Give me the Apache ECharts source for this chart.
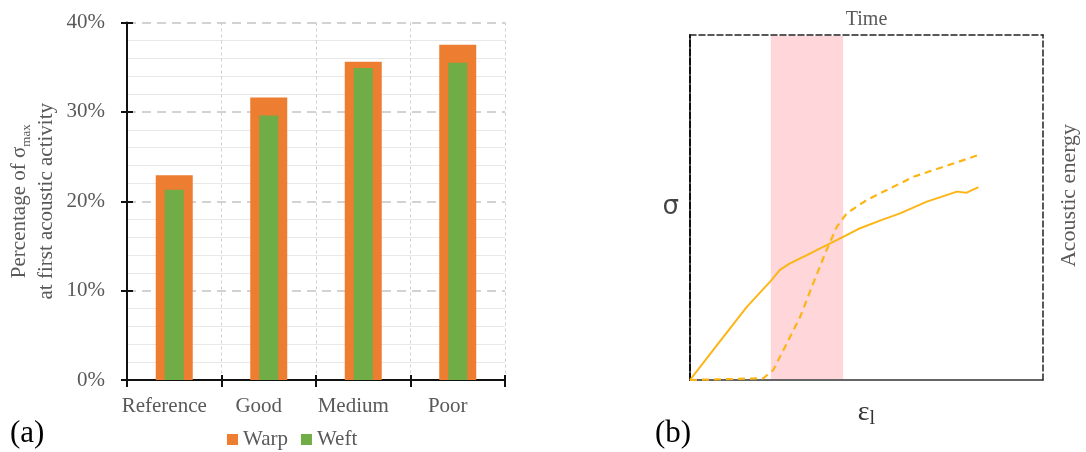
<!DOCTYPE html>
<html>
<head>
<meta charset="utf-8">
<script src="https://cdn.jsdelivr.net/npm/echarts@6/dist/echarts.min.js"></script>
<style>html,body{margin:0;padding:0;background:#fff}#c{width:1086px;height:452px}</style>
</head>
<body>
<div id="c"></div>
<script>
// ---- Panel (a) data ----
const categories = ['Reference', 'Good', 'Medium', 'Poor'];
const warp = [22.9, 31.6, 35.6, 37.5];
const weft = [21.3, 29.6, 34.9, 35.5];
const yTicksA = [0, 10, 20, 30, 40];

// ---- Panel (b) data (schematic, normalised 0-100) ----
const sigmaCurve = [[0,0],[6.6,8.7],[16.1,21.2],[22.7,28.5],[25.5,31.9],[28.3,33.8],[33.1,36.2],[38.7,39.1],[43.4,41.5],[48.2,44.0],[53.8,46.2],[59.5,48.3],[67.1,51.7],[71.8,53.3],[75.6,54.6],[78.4,54.3],[81.7,55.9]];
const energyCurve = [[0,0],[20.8,0.5],[23.6,2.9],[27.4,10.6],[31.2,18.3],[34.9,28.0],[38.7,37.7],[41.6,44.4],[44.4,48.3],[50.1,52.2],[57.6,56.0],[63.3,58.9],[71.8,61.8],[81.7,65.2]];
const bandRange = [22.9, 43.4];

const F = 'Liberation Serif';
const G = '#595959';

const chart = echarts.init(document.getElementById('c'));
chart.setOption({
  animation: false,
  title: [
    {text: '(a)', left: 5, top: 413, textStyle: {fontFamily: F, fontSize: 31, fontWeight: 'normal', color: '#000'}},
    {text: '(b)', left: 650, top: 413, textStyle: {fontFamily: F, fontSize: 31, fontWeight: 'normal', color: '#000'}}
  ],
  legend: {
    data: ['Warp', 'Weft'],
    left: 222, top: 424,
    icon: 'rect', itemWidth: 11, itemHeight: 11, itemGap: 13,
    textStyle: {fontFamily: F, fontSize: 21, color: G}
  },
  grid: [
    {left: 127, top: 22.5, width: 378, height: 357.5},
    {left: 690, top: 35, width: 353, height: 345}
  ],
  xAxis: [
    {type: 'category', gridIndex: 0, data: categories,
     axisLine: {lineStyle: {color: '#111', width: 2}},
     axisTick: {show: true, interval: 0, length: 7, lineStyle: {color: '#111', width: 2}},
     axisLabel: {fontFamily: F, fontSize: 21, color: G, margin: 16, interval: 0, padding: [0, 20, 0, 0]},
     splitLine: {show: true, interval: 0, lineStyle: {color: '#cfcfcf', type: [3, 3], width: 1}}},
    {type: 'category', gridIndex: 0, data: categories, position: 'bottom',
     axisLine: {show: false}, axisLabel: {show: false}, splitLine: {show: false},
     axisTick: {show: true, interval: 0, inside: true, length: 5, lineStyle: {color: '#111', width: 2}}},
    {type: 'value', gridIndex: 1, min: 0, max: 100,
     axisLine: {onZero: false, lineStyle: {color: '#333', width: 1.5}}, axisTick: {show: false}, axisLabel: {show: false}, splitLine: {show: false},
     name: '{e|ε}{s|l}', nameLocation: 'middle', nameGap: 17,
     nameTextStyle: {rich: {e: {fontFamily: F, fontSize: 28, color: '#333'}, s: {fontFamily: F, fontSize: 20, color: '#333', verticalAlign: 'bottom', padding: [12, 0, 0, 0]}}}},
    {type: 'value', gridIndex: 1, min: 0, max: 100, position: 'top',
     axisLine: {show: true, onZero: false, lineStyle: {color: '#222', width: 1.5, type: [6, 3]}}, axisTick: {show: false}, axisLabel: {show: false}, splitLine: {show: false},
     name: 'Time', nameLocation: 'middle', nameGap: 5,
     nameTextStyle: {fontFamily: F, fontSize: 20, color: G}}
  ],
  yAxis: [
    {type: 'value', gridIndex: 0, min: 0, max: 40, interval: 10,
     axisLine: {show: true, lineStyle: {color: '#111', width: 2}},
     axisTick: {show: true, length: 6, lineStyle: {color: '#111', width: 2}},
     axisLabel: {fontFamily: F, fontSize: 21, color: G, margin: 22, formatter: v => yTicksA.includes(v) ? v + '%' : ''},
     splitLine: {show: true, lineStyle: {color: '#c4c4c4', type: [9, 6], width: 1.5}},
     minorTick: {show: false, splitNumber: 5},
     minorSplitLine: {show: true, lineStyle: {color: '#e8e8e8', width: 1}},
     name: '{a|Percentage of σ}{s|max}\n{a|at first acoustic activity}',
     nameLocation: 'middle', nameGap: 67, nameRotate: 90,
     nameTextStyle: {rich: {
       a: {fontFamily: F, fontSize: 21, color: G, lineHeight: 27},
       s: {fontFamily: F, fontSize: 13, color: G, lineHeight: 27, verticalAlign: 'bottom', padding: [8, 0, 0, 0]}
     }}},
    {type: 'value', gridIndex: 0, min: 0, max: 40, interval: 10, position: 'left',
     axisLine: {show: false}, axisLabel: {show: false}, splitLine: {show: false},
     axisTick: {show: true, inside: true, length: 6, lineStyle: {color: '#111', width: 2}}},
    {type: 'value', gridIndex: 1, min: 0, max: 100,
     axisLine: {show: true, onZero: false, lineStyle: {color: '#111', width: 2, type: [7, 2]}}, axisTick: {show: false}, axisLabel: {show: false}, splitLine: {show: false},
     name: 'σ', nameLocation: 'middle', nameGap: 11, nameRotate: 0,
     nameTextStyle: {fontFamily: 'DejaVu Sans', fontSize: 26, color: '#444'}},
    {type: 'value', gridIndex: 1, min: 0, max: 100, position: 'right',
     axisLine: {show: true, onZero: false, lineStyle: {color: '#222', width: 1.5, type: [6, 3]}}, axisTick: {show: false}, axisLabel: {show: false}, splitLine: {show: false},
     name: 'Acoustic energy', nameLocation: 'middle', nameGap: 15, nameRotate: 90,
     nameTextStyle: {fontFamily: F, fontSize: 22, color: G, padding: [0, 0, 0, 24]}}
  ],
  series: [
    {name: 'Warp', type: 'bar', xAxisIndex: 0, yAxisIndex: 0, data: warp, barWidth: 37, itemStyle: {color: '#ED7D31'}},
    {name: 'Weft', type: 'bar', xAxisIndex: 1, yAxisIndex: 0, data: weft, barWidth: 19, itemStyle: {color: '#70AD47'}, z: 3},
    {type: 'line', xAxisIndex: 2, yAxisIndex: 2, data: [], silent: true,
     markArea: {silent: true, itemStyle: {color: '#FFD6DA', opacity: 1}, data: [[{xAxis: bandRange[0], yAxis: 0.3}, {xAxis: bandRange[1], yAxis: 99.7}]]}, z: 1},
    {type: 'line', xAxisIndex: 2, yAxisIndex: 2, data: sigmaCurve, showSymbol: false, symbol: 'none',
     lineStyle: {color: '#FDB515', width: 2}, z: 3},
    {type: 'line', xAxisIndex: 2, yAxisIndex: 2, data: energyCurve, showSymbol: false, symbol: 'none',
     lineStyle: {color: '#FDB515', width: 2.2, type: [7, 5]}, z: 3}
  ]
});
</script>
</body>
</html>
